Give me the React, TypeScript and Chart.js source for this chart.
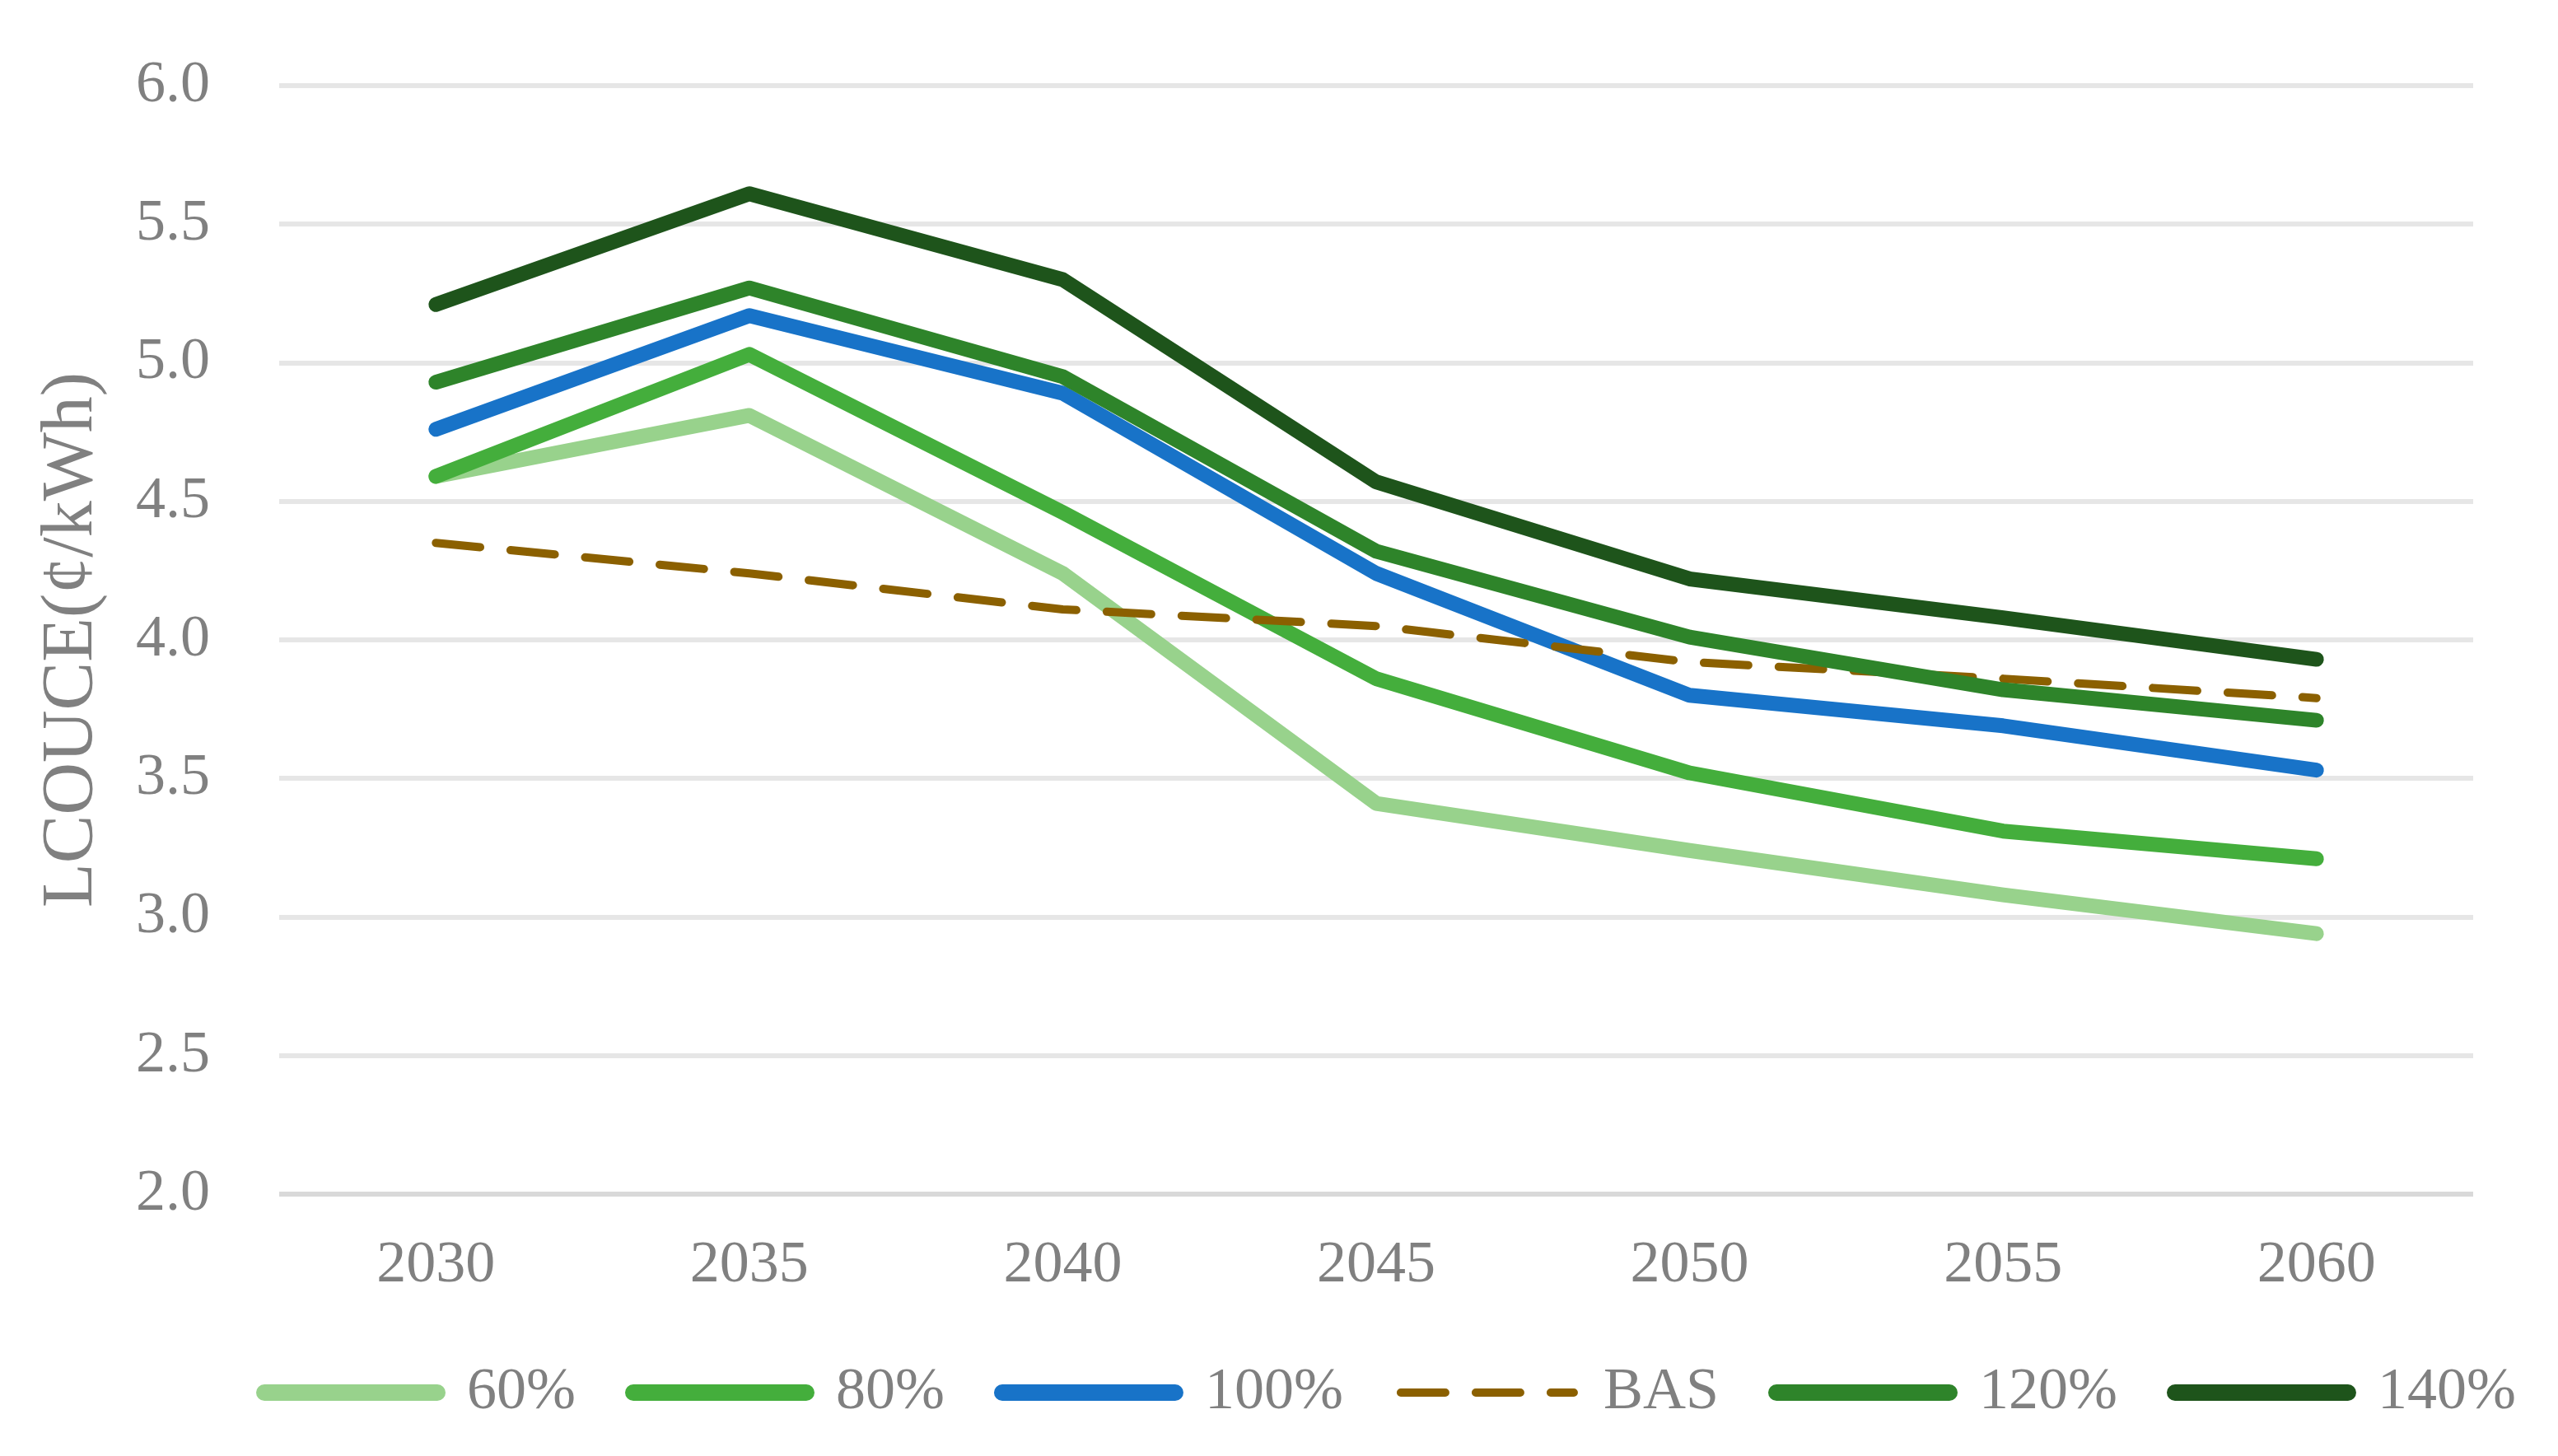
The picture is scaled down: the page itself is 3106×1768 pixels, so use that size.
import { useEffect, useRef } from 'react'
import { Chart, ChartConfiguration, registerables } from 'chart.js'

Chart.register(...registerables)

const years = ['2030', '2035', '2040', '2045', '2050', '2055', '2060']
const seriesNames = ['60%', '80%', '100%', 'BAS', '120%', '140%']
const s60 = [4.59, 4.81, 4.24, 3.41, 3.24, 3.08, 2.94]
const s80 = [4.59, 5.03, 4.46, 3.86, 3.52, 3.31, 3.21]
const s100 = [4.76, 5.17, 4.89, 4.24, 3.8, 3.69, 3.53]
const sBas = [4.35, 4.24, 4.11, 4.05, 3.92, 3.86, 3.79]
const s120 = [4.93, 5.27, 4.95, 4.32, 4.01, 3.82, 3.71]
const s140 = [5.21, 5.61, 5.3, 4.57, 4.22, 4.08, 3.93]
const colors = ['#98d28c', '#44ae3c', '#1873c8', '#8b6000', '#2e842a', '#1e541b']

const FONT = "'Liberation Serif', 'Times New Roman', serif"
const GREY = '#808080'
const BAS_DASH = [54, 37]

// moves the legend to where the reference has it
const legendShift = {
  id: 'legendShift',
  afterLayout(chart: any) {
    const lg = chart.legend
    if (!lg) return
    const h = lg.bottom - lg.top
    lg.left = 251
    lg.right = 3400
    lg.top = 1585
    lg.bottom = 1585 + h
  },
}

export default function App() {
  const canvasRef = useRef<HTMLCanvasElement>(null)
  const chartRef = useRef<Chart | null>(null)

  useEffect(() => {
    if (!canvasRef.current) return
    const ctx = canvasRef.current.getContext('2d')
    if (!ctx) return
    if (chartRef.current) chartRef.current.destroy()

    const values = [s60, s80, s100, sBas, s120, s140]

    const config: ChartConfiguration = {
      type: 'line',
      data: {
        labels: years,
        datasets: values.map((data, i) => {
          const dashed = seriesNames[i] === 'BAS'
          return {
            label: seriesNames[i],
            data,
            borderColor: colors[i],
            backgroundColor: colors[i],
            borderWidth: dashed ? 10 : 18,
            borderDash: dashed ? BAS_DASH : [],
            borderCapStyle: 'round',
            borderJoinStyle: 'round',
            pointRadius: 0,
            pointHoverRadius: 0,
            pointStyle: 'line',
            tension: 0,
            fill: false,
            order: values.length - i,
          }
        }),
      },
      options: {
        responsive: true,
        maintainAspectRatio: false,
        animation: false,
        devicePixelRatio: 1,
        layout: { padding: { top: 104, right: 103, left: 0, bottom: 0 } },
        plugins: {
          tooltip: { enabled: false },
          legend: {
            display: true,
            position: 'bottom',
            align: 'start',
            labels: {
              usePointStyle: true,
              pointStyleWidth: 210,
              boxHeight: 72,
              padding: 70,
              color: GREY,
              font: { family: FONT, size: 72 },
              sort: (a: any, b: any) => a.datasetIndex - b.datasetIndex,
              generateLabels: (chart: any) => {
                const items = Chart.defaults.plugins.legend.labels.generateLabels(chart)
                return items.map((it: any) => {
                  const ds = chart.data.datasets[it.datasetIndex]
                  const dashed = ds.borderDash && ds.borderDash.length > 0
                  return {
                    ...it,
                    pointStyle: 'line',
                    strokeStyle: ds.borderColor,
                    fillStyle: ds.borderColor,
                    lineDash: dashed ? ds.borderDash : [],
                    lineWidth: dashed ? 10 : 20,
                    lineCap: 'round',
                  }
                })
              },
            },
          },
        },
        scales: {
          x: {
            offset: true,
            grid: { display: false, drawTicks: false },
            border: { display: false },
            ticks: {
              color: GREY,
              padding: 44,
              font: { family: FONT, size: 72 },
            },
            afterFit: (scale: any) => {
              scale.height = 166
            },
          },
          y: {
            min: 2,
            max: 6,
            grid: {
              drawTicks: false,
              lineWidth: 6,
              color: (c: any) => (c.index === 0 ? '#d9d9d9' : '#e6e6e6'),
            },
            border: { display: false },
            ticks: {
              stepSize: 0.5,
              color: GREY,
              padding: 84,
              font: { family: FONT, size: 72 },
              callback: (v: any) => Number(v).toFixed(1),
            },
            title: {
              display: true,
              text: 'LCOUCE(¢/kWh)',
              color: GREY,
              font: { family: FONT, size: 88 },
              padding: { top: 35, bottom: 0 },
            },
            afterFit: (scale: any) => {
              scale.width = 339
              // the tick padding should not push the plot down
              scale.paddingTop = 0
              scale.paddingBottom = 0
            },
          },
        },
      },
      plugins: [legendShift],
    }

    chartRef.current = new Chart(ctx, config)

    return () => {
      chartRef.current?.destroy()
    }
  }, [])

  return (
    <div style={{ position: 'fixed', left: 0, top: 0, width: 3106, height: 1768, background: '#fff' }}>
      <canvas ref={canvasRef} />
    </div>
  )
}
